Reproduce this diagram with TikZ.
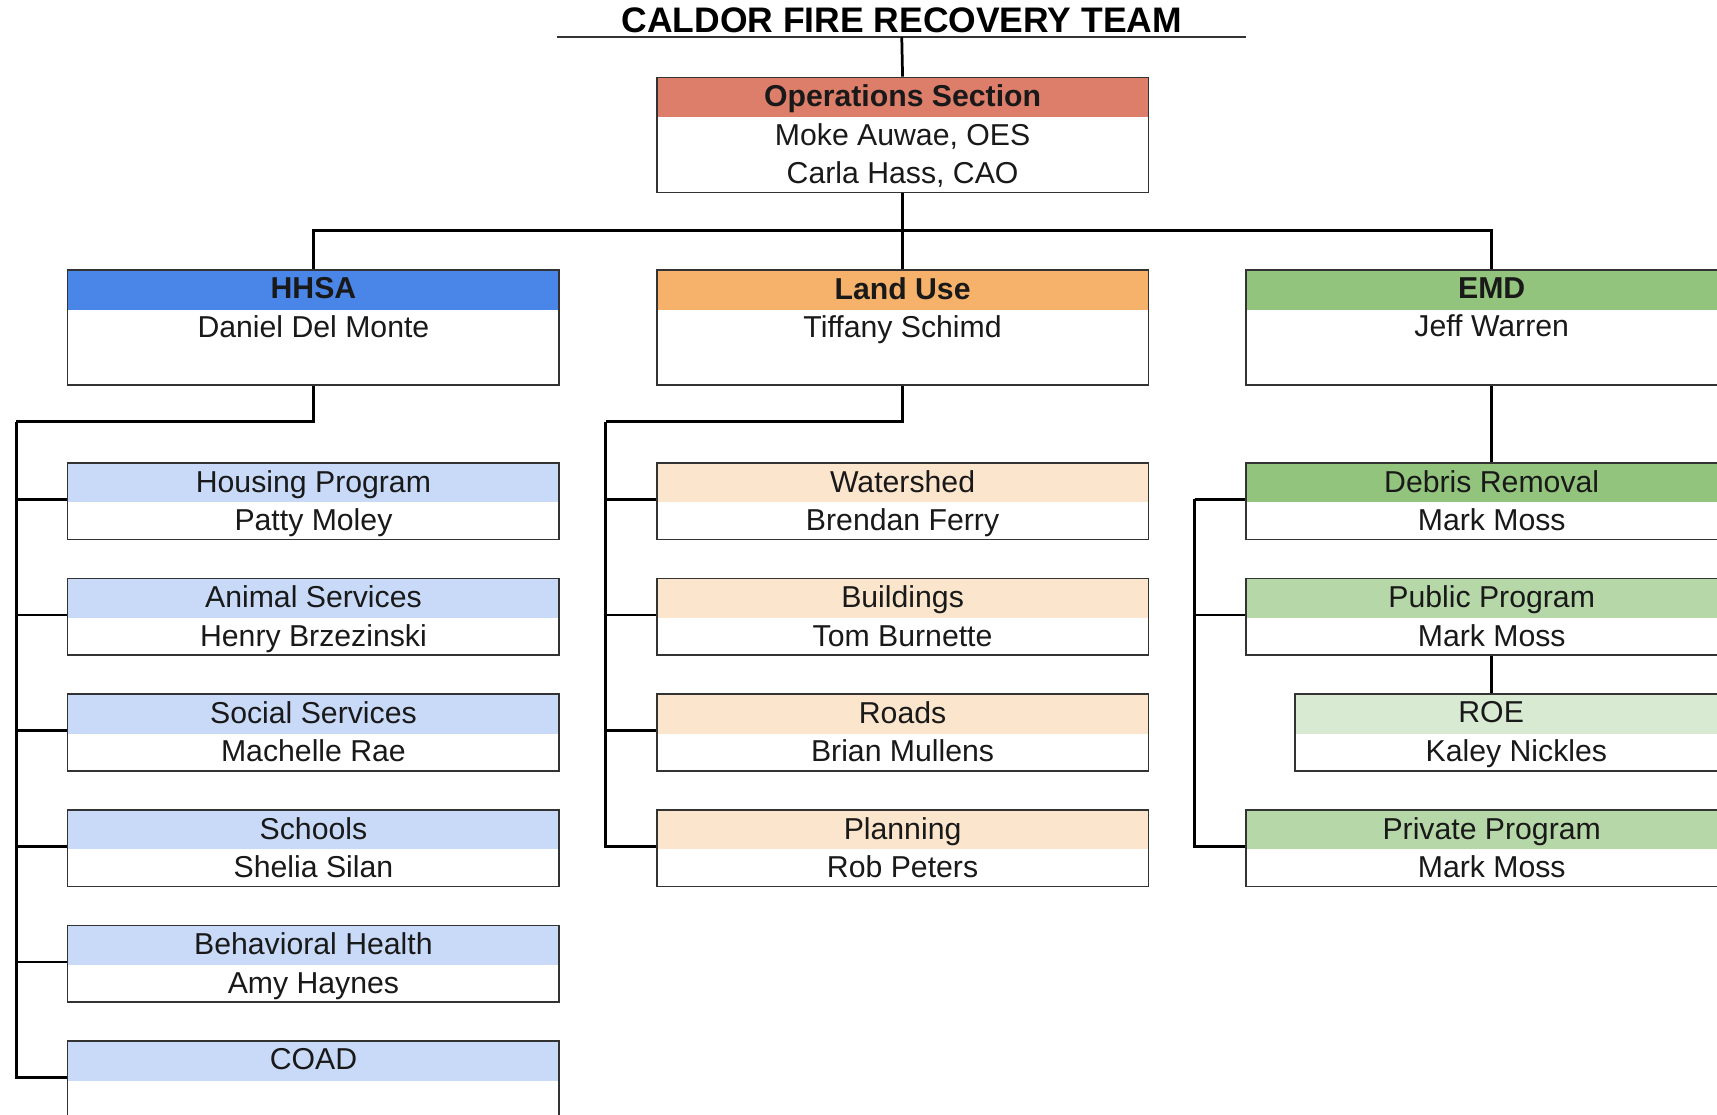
\documentclass[tikz,border=0pt]{standalone}
\usepackage{fontspec}
\setmainfont{Liberation Sans}
\usetikzlibrary{positioning,calc}
\definecolor{opsred}{HTML}{DD7E6B}
\definecolor{hhsablue}{HTML}{4A86E8}
\definecolor{hhsalight}{HTML}{C9DAF8}
\definecolor{landorange}{HTML}{F6B26B}
\definecolor{landlight}{HTML}{FCE5CD}
\definecolor{emdgreen}{HTML}{93C47D}
\definecolor{pubgreen}{HTML}{B6D7A8}
\definecolor{roegreen}{HTML}{D9EAD3}

\begin{document}
\begin{tikzpicture}[
  x=1pt, y=-1pt,
  font=\fontsize{27.6}{35.2}\selectfont,
  unit/.style={draw=black!80, line width=1.5pt, fill=white, inner sep=0pt, minimum width=#1, minimum height=70pt, anchor=north west},
  unit/.default=449pt,
  hdr/.style={path picture={\fill[#1] (path picture bounding box.north west) rectangle ([yshift=-36pt]path picture bounding box.north east);}},
  lbl/.style={anchor=north, align=center, inner xsep=0pt, inner ysep=7.2pt, text=black!90},
  link/.style={line width=2.5pt, black},
  ]
\useasboundingbox (0,0) rectangle (1568,1018);
\clip (0,0) rectangle (1568,1018);
% box: width, name, top-left, height, header colour, text
\newcommand{\orgbox}[6][449pt]{%
  \node[unit=#1, minimum height=#4, hdr=#5] (#2) at (#3) {};
  \node[lbl] at (#2.north) {#6};}
% title
\node[font=\bfseries\fontsize{32.4}{38}\selectfont, minimum width=629pt, inner xsep=0pt, inner ysep=4pt, anchor=south] (title) at (823.5,34) {CALDOR FIRE RECOVERY TEAM};
\draw[line width=1.5pt, black!80] (title.south west) -- (title.south east);
% section head
\orgbox{ops}{599,70}{105pt}{opsred}{\textbf{Operations Section}\\Moke Auwae, OES\\Carla Hass, CAO}
% branches
\orgbox{hhsa}{61,246}{105pt}{hhsablue}{\textbf{HHSA}\\Daniel Del Monte}
\orgbox{land}{599,246}{105pt}{landorange}{\textbf{Land Use}\\Tiffany Schimd}
\orgbox{emd}{1137,246}{105pt}{emdgreen}{\textbf{EMD}\\Jeff Warren}
% HHSA units
\orgbox{hsg}{61,422}{70pt}{hhsalight}{Housing Program\\Patty Moley}
\orgbox{ani}{61,527.6}{70pt}{hhsalight}{Animal Services\\Henry Brzezinski}
\orgbox{soc}{61,633.2}{70pt}{hhsalight}{Social Services\\Machelle Rae}
\orgbox{sch}{61,738.8}{70pt}{hhsalight}{Schools\\Shelia Silan}
\orgbox{beh}{61,844.4}{70pt}{hhsalight}{Behavioral Health\\Amy Haynes}
\orgbox{coad}{61,950}{70pt}{hhsalight}{COAD}
% land use units
\orgbox{wat}{599,422}{70pt}{landlight}{Watershed\\Brendan Ferry}
\orgbox{bld}{599,527.6}{70pt}{landlight}{Buildings\\Tom Burnette}
\orgbox{rds}{599,633.2}{70pt}{landlight}{Roads\\Brian Mullens}
\orgbox{pln}{599,738.8}{70pt}{landlight}{Planning\\Rob Peters}
% EMD units
\orgbox{deb}{1137,422}{70pt}{emdgreen}{Debris Removal\\Mark Moss}
\orgbox{pub}{1137,527.6}{70pt}{pubgreen}{Public Program\\Mark Moss}
\orgbox[404pt]{roe}{1182,633.2}{70pt}{roegreen}{\hspace*{-46pt}ROE\\Kaley Nickles}
\orgbox{prv}{1137,738.8}{70pt}{pubgreen}{Private Program\\Mark Moss}
% spines
\coordinate (hspine) at (15,385);
\coordinate (lspine) at (553,385);
\coordinate (espine) at (1091,456);
% connectors
\draw[link] (title.south) -- (ops.north);
\draw[link] (ops.south) -- ++(0,34) coordinate (bus);
\foreach \n in {hhsa,land,emd} \draw[link] (bus) -| (\n.north);
\draw[link] (hhsa.south) |- (hspine);
\foreach \n in {hsg,ani,soc,sch,beh,coad} \draw[link] (hspine) |- ([yshift=-34pt]\n.north west);
\draw[link] (land.south) |- (lspine);
\foreach \n in {wat,bld,rds,pln} \draw[link] (lspine) |- ([yshift=-34pt]\n.north west);
\draw[link] (emd.south) -- (deb.north);
\foreach \n in {deb,pub,prv} \draw[link] (espine) |- ([yshift=-34pt]\n.north west);
\draw[link] (pub.south) -- (roe.north -| pub.south);
\end{tikzpicture}
\end{document}
